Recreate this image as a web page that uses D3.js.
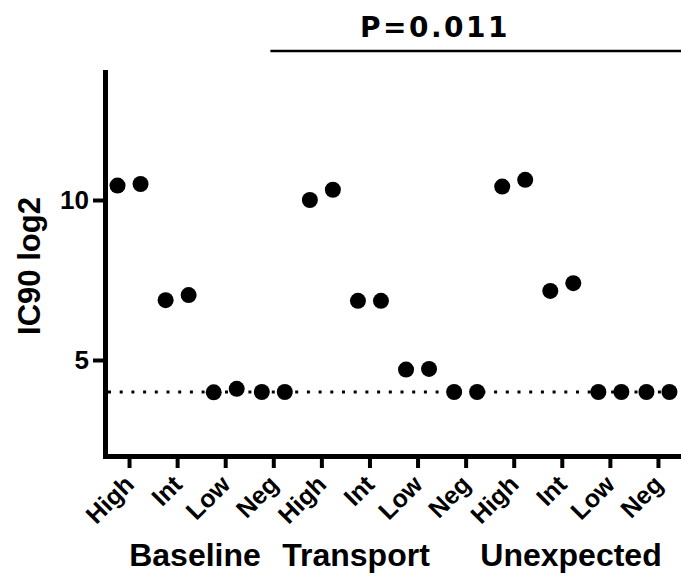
<!DOCTYPE html>
<html>
<head>
<meta charset="utf-8">
<script src="https://cdn.jsdelivr.net/npm/d3@7/dist/d3.min.js"></script>
<style>
  html, body { margin: 0; padding: 0; background: #fff; }
  svg { display: block; }
</style>
</head>
<body>
<script>
// ---- data ----
const groups = ["Baseline", "Transport", "Unexpected"];
const levels = ["High", "Int", "Low", "Neg"];
const baselineValues   = [[10.45, 10.5], [6.87, 7.03], [3.99, 4.1], [4.0, 4.0]];
const transportValues  = [[10.0, 10.32], [6.85, 6.85], [4.7, 4.72], [4.0, 4.0]];
const unexpectedValues = [[10.42, 10.63], [7.16, 7.4], [4.0, 4.0], [4.0, 4.0]];
const yTicks = [5, 10];
const yDomain = [2, 14];
const cutoff = 4;
const pLabel = "P=0.011";
const yLabel = "IC90 log2";

// ---- layout ----
const W = 681, H = 583;
const svg = d3.select("body").append("svg").attr("width", W).attr("height", H);

const seriesValues = [baselineValues, transportValues, unexpectedValues];
const keys = [];
groups.forEach((g, gi) => levels.forEach((l, li) => keys.push({ key: g + "-" + l, group: g, level: l, vals: seriesValues[gi][li] })));

const x = d3.scalePoint().domain(keys.map(d => d.key)).range([105, 682]).padding(0.5);
const y = d3.scaleLinear().domain(yDomain).range([456, 72]);

// cutoff dotted line
svg.append("line")
  .attr("x1", 108).attr("x2", 681)
  .attr("y1", y(cutoff)).attr("y2", y(cutoff))
  .attr("stroke", "#000").attr("stroke-width", 3)
  .attr("stroke-dasharray", "3,8.7");

// dots
const offsets = [-11.5, 11.5];
const pts = [];
keys.forEach(k => k.vals.forEach((v, i) => pts.push({ cx: x(k.key) + offsets[i], v })));
svg.append("g").selectAll("circle").data(pts).join("circle")
  .attr("cx", d => d.cx).attr("cy", d => y(d.v)).attr("r", 8).attr("fill", "#000");

// y axis
const yAxis = svg.append("g").attr("transform", "translate(105,0)")
  .call(d3.axisLeft(y).tickValues(yTicks).tickSize(12).tickSizeOuter(0).tickPadding(4).tickFormat(d3.format("d")));
yAxis.select(".domain").attr("stroke-width", 5).attr("stroke-linecap", "square");
yAxis.selectAll(".tick line").attr("stroke-width", 4);
yAxis.selectAll(".tick text")
  .attr("font-family", "Liberation Sans, Arial, sans-serif")
  .attr("font-weight", "bold").attr("font-size", 26).attr("fill", "#000");

// x axis
const xAxis = svg.append("g").attr("transform", "translate(0,456)")
  .call(d3.axisBottom(x).tickSize(12).tickSizeOuter(0).tickFormat(k => k.split("-")[1]));
xAxis.select(".domain").attr("stroke-width", 5).attr("stroke-linecap", "square");
xAxis.selectAll(".tick line").attr("stroke-width", 4);
xAxis.selectAll(".tick text")
  .attr("font-family", "Liberation Sans, Arial, sans-serif")
  .attr("font-weight", "bold").attr("font-size", 25).attr("fill", "#000")
  .attr("x", 0).attr("y", 0).attr("dy", 0)
  .attr("text-anchor", "end")
  .attr("transform", "translate(6,30) rotate(-45)");

// group labels
const groupLabelX = [195, 356, 571];
svg.append("g").selectAll("text").data(groups).join("text")
  .attr("x", (d, i) => groupLabelX[i]).attr("y", 566)
  .attr("text-anchor", "middle")
  .attr("font-family", "Liberation Sans, Arial, sans-serif")
  .attr("font-weight", "bold").attr("font-size", 32)
  .text(d => d);

// y label
svg.append("text")
  .attr("transform", "translate(40,266) rotate(-90)")
  .attr("text-anchor", "middle")
  .attr("font-family", "Liberation Sans, Arial, sans-serif")
  .attr("font-weight", "bold").attr("font-size", 31)
  .text(yLabel);

// P value annotation
svg.append("line")
  .attr("x1", x(keys[4].key) - 51).attr("x2", 681)
  .attr("y1", 51).attr("y2", 51)
  .attr("stroke", "#000").attr("stroke-width", 2.5);
svg.append("text")
  .attr("x", 360).attr("y", 37)
  .attr("font-family", "DejaVu Sans, Verdana, sans-serif")
  .attr("font-weight", "bold").attr("font-size", 28)
  .attr("letter-spacing", 2.5)
  .text(pLabel);
</script>
</body>
</html>
